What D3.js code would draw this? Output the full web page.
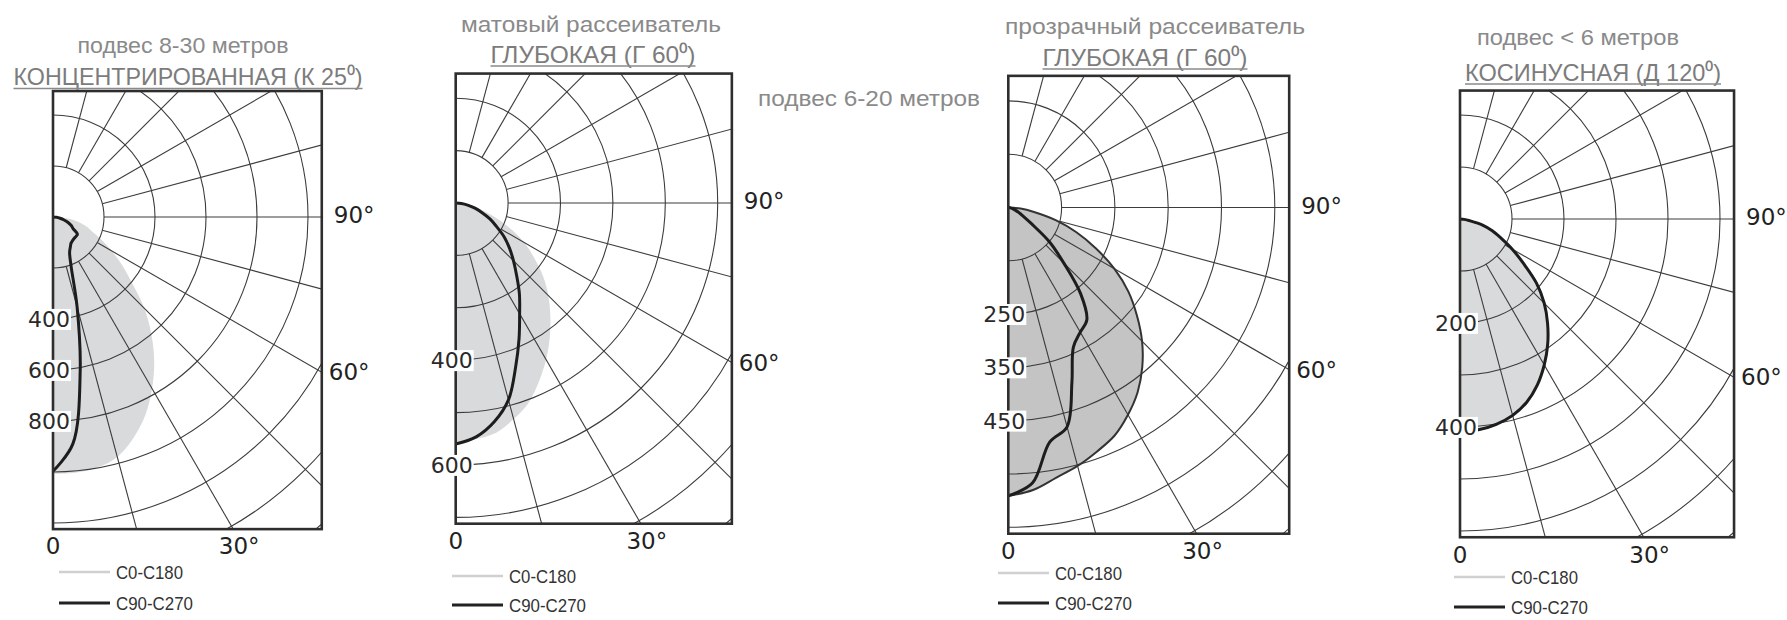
<!DOCTYPE html>
<html>
<head>
<meta charset="utf-8">
<script src="https://cdn.jsdelivr.net/npm/d3@7"></script>
<style>
  body { margin: 0; background: #fff; }
  svg { display: block; }
</style>
</head>
<body>
<script>
const width = 1787,
    height = 620;

// angle from nadir, degrees
const angles = [0, 5, 10, 15, 20, 25, 30, 35, 40, 45, 50, 55, 60, 65, 70, 75, 80, 85, 90];

const titlesTop = ['подвес 8-30 метров', 'матовый рассеиватель', 'прозрачный рассеиватель', 'подвес < 6 метров'];
const titlesMain = ['КОНЦЕНТРИРОВАННАЯ (К 25⁰)', 'ГЛУБОКАЯ (Г 60⁰)', 'ГЛУБОКАЯ (Г 60⁰)', 'КОСИНУСНАЯ (Д 120⁰)'];
const sideNote = 'подвес 6-20 метров';

// radial axis: value at the centre and value per ring
const rBase = [0, 100, 50, 0];
const rStep = [200, 100, 100, 100];
const rTicks = [[400, 600, 800], [400, 600], [250, 350, 450], [200, 400]];

// C0-C180 curves, cd
const c0 = [
  [1007, 1007, 998, 974, 922, 857, 777, 692, 600, 507, 406, 332, 265, 210, 162, 130, 95, 47, 0],
  [560, 552, 545, 527, 506, 476, 445, 413, 381, 350, 318, 283, 251, 215, 180, 153, 131, 113, 100],
  [591, 582, 565, 552, 537, 522, 499, 473, 441, 405, 365, 325, 280, 231, 186, 142, 99, 73, 50],
  [410, 409, 404, 394, 378, 356, 328, 298, 266, 233, 197, 156, 122, 92, 70, 48, 22, 9, 0]
];
// C90-C270 curves, cd
const c90 = [
  [997, 893, 614, 365, 209, 154, 136, 124, 120, 118, 118, 117, 91, 79, 63, 45, 28, 14, 0],
  [560, 548, 524, 489, 434, 386, 344, 312, 281, 256, 234, 213, 190, 172, 153, 138, 123, 111, 100],
  [591, 569, 497, 476, 399, 339, 320, 307, 261, 197, 152, 103, 82, 71, 63, 58, 54, 52, 50],
  [408, 407, 401, 391, 375, 352, 324, 294, 262, 229, 192, 149, 116, 87, 66, 45, 19, 8, 0]
];

const legendNames = ['C0-C180', 'C90-C270'];
const sideTicks = ['90°', '60°'];
const bottomTicks = ['0', '30°'];

// page layout of the four diagrams
const layout = [
  {left: 53, cy: 217, u: 51, t1: [183, 53, 211], t2: [188, 85, 349], lx: 59, ly: [572, 603], fill: '#d9dadb', edge: 'none'},
  {left: 455.7, cy: 203, u: 52.4, t1: [591, 31.5, 260], t2: [593, 62.5, 205], lx: 452, ly: [576, 605], fill: '#d9dadb', edge: 'none'},
  {left: 1008.3, cy: 207.5, u: 53.3, t1: [1155, 33.5, 300], t2: [1145, 65.5, 205], lx: 998, ly: [573, 603], fill: '#c4c4c4', edge: '#333'},
  {left: 1460, cy: 219, u: 52, t1: [1578, 45, 202], t2: [1593, 80.5, 256], lx: 1454, ly: [577, 607], fill: '#d9dadb', edge: 'none'}
];

const DEG = Math.PI / 180;
const narrow = "'Liberation Sans Narrow', 'Arial Narrow', 'Liberation Sans', sans-serif";
const wide = "'DejaVu Sans', Verdana, sans-serif";

var svg = d3.select('body').append('svg')
    .attr('width', width)
    .attr('height', height);

var defs = svg.append('defs');

layout.forEach((p, i) => {
  const W = p.u * 5.27,
      top = -p.u * 2.47,
      bottom = p.u * 6.12;
  const r = d3.scaleLinear().domain([rBase[i], rBase[i] + rStep[i]]).range([0, p.u]);

  defs.append('clipPath').attr('id', 'frame-' + i)
    .append('rect').attr('x', 0).attr('y', top).attr('width', W).attr('height', bottom - top);

  var g = svg.append('g').attr('transform', `translate(${p.left},${p.cy})`);
  var inner = g.append('g').attr('clip-path', `url(#frame-${i})`);

  const curve = d3.lineRadial()
      .angle(d => Math.PI - d[0] * DEG)
      .radius(d => r(d[1]))
      .curve(d3.curveCatmullRom.alpha(0.5));
  const pts0 = angles.map((a, j) => [a, c0[i][j]]),
      pts90 = angles.map((a, j) => [a, c90[i][j]]);

  // C0-C180 fill sits under the grid
  inner.append('path')
    .attr('d', curve(pts0) + 'Z')
    .attr('fill', p.fill);

  // rings
  inner.selectAll('circle.ring')
    .data(d3.range(1, 11).map(k => rBase[i] + k * rStep[i]))
    .enter().append('circle')
    .attr('class', 'ring')
    .attr('r', v => r(v))
    .attr('fill', 'none')
    .attr('stroke', '#3c3c3c')
    .attr('stroke-width', 1.1);

  // spokes every 15 degrees, starting on the first ring
  const r1 = r(rBase[i] + rStep[i]), rFar = r(rBase[i] + 12 * rStep[i]);
  inner.selectAll('line.spoke')
    .data(d3.range(15, 180, 15))
    .enter().append('line')
    .attr('class', 'spoke')
    .attr('x1', a => r1 * Math.sin(a * DEG))
    .attr('y1', a => r1 * Math.cos(a * DEG))
    .attr('x2', a => rFar * Math.sin(a * DEG))
    .attr('y2', a => rFar * Math.cos(a * DEG))
    .attr('stroke', '#3c3c3c')
    .attr('stroke-width', 1.1);

  if (p.edge !== 'none') {
    inner.append('path')
      .attr('d', curve(pts0))
      .attr('fill', 'none')
      .attr('stroke', p.edge)
      .attr('stroke-width', 2);
  }

  inner.append('path')
    .attr('d', curve(pts90))
    .attr('fill', 'none')
    .attr('stroke', '#1d1d1d')
    .attr('stroke-width', 3)
    .attr('stroke-linejoin', 'round');

  g.append('rect')
    .attr('x', 0).attr('y', top)
    .attr('width', W).attr('height', bottom - top)
    .attr('fill', 'none')
    .attr('stroke', '#2e2e2e')
    .attr('stroke-width', 2.6);

  // radial tick labels with white boxes
  var tk = g.selectAll('g.rtick')
    .data(rTicks[i])
    .enter().append('g')
    .attr('class', 'rtick')
    .attr('transform', v => `translate(-4,${r(v)})`);
  tk.append('rect');
  tk.append('text')
    .attr('text-anchor', 'middle')
    .attr('dy', '0.36em')
    .attr('font-family', wide)
    .attr('font-size', 22)
    .attr('fill', '#2a2a2a')
    .text(v => v);
  tk.each(function() {
    const b = d3.select(this).select('text').node().getBBox();
    d3.select(this).select('rect')
      .attr('x', b.x - 1).attr('y', b.y + 2)
      .attr('width', b.width + 2).attr('height', b.height - 4)
      .attr('fill', '#fff');
  });

  // angle labels
  const tan60 = Math.tan(60 * DEG), tan30 = Math.tan(30 * DEG);
  g.append('text')
    .attr('x', W + 12).attr('y', -2).attr('dy', '0.36em')
    .attr('font-family', wide).attr('font-size', 23).attr('fill', '#222')
    .text(sideTicks[0]);
  g.append('text')
    .attr('x', W + 7).attr('y', W / tan60).attr('dy', '0.36em')
    .attr('font-family', wide).attr('font-size', 23).attr('fill', '#222')
    .text(sideTicks[1]);
  g.append('text')
    .attr('x', 0).attr('y', bottom + 17).attr('dy', '0.36em')
    .attr('text-anchor', 'middle')
    .attr('font-family', wide).attr('font-size', 23).attr('fill', '#222')
    .text(bottomTicks[0]);
  g.append('text')
    .attr('x', bottom * tan30 + 6).attr('y', bottom + 17).attr('dy', '0.36em')
    .attr('text-anchor', 'middle')
    .attr('font-family', wide).attr('font-size', 23).attr('fill', '#222')
    .text(bottomTicks[1]);

  // titles
  svg.append('text')
    .attr('x', p.t1[0]).attr('y', p.t1[1])
    .attr('text-anchor', 'middle')
    .attr('font-family', narrow).attr('font-size', 22).attr('fill', '#8a8a8a')
    .attr('textLength', p.t1[2]).attr('lengthAdjust', 'spacingAndGlyphs')
    .text(titlesTop[i]);

  svg.append('text')
    .attr('x', p.t2[0]).attr('y', p.t2[1])
    .attr('text-anchor', 'middle')
    .attr('font-family', narrow).attr('font-size', 24).attr('fill', '#7c7c7c')
    .attr('textLength', p.t2[2]).attr('lengthAdjust', 'spacingAndGlyphs')
    .text(titlesMain[i]);
  svg.append('line')
    .attr('x1', p.t2[0] - p.t2[2] / 2).attr('x2', p.t2[0] + p.t2[2] / 2)
    .attr('y1', p.t2[1] + 3.5).attr('y2', p.t2[1] + 3.5)
    .attr('stroke', '#8a8a8a').attr('stroke-width', 1.6);

  // legend
  const lg = svg.append('g');
  lg.selectAll('line')
    .data(legendNames)
    .enter().append('line')
    .attr('x1', p.lx).attr('x2', p.lx + 51)
    .attr('y1', (d, k) => p.ly[k]).attr('y2', (d, k) => p.ly[k])
    .attr('stroke', (d, k) => k ? '#222' : '#d0d0d0')
    .attr('stroke-width', (d, k) => k ? 3 : 2.4);
  lg.selectAll('text')
    .data(legendNames)
    .enter().append('text')
    .attr('x', p.lx + 57)
    .attr('y', (d, k) => p.ly[k]).attr('dy', '0.36em')
    .attr('font-family', narrow).attr('font-size', 19).attr('fill', '#333')
    .attr('textLength', (d, k) => k ? 77 : 67).attr('lengthAdjust', 'spacingAndGlyphs')
    .text(d => d);
});

svg.append('text')
  .attr('x', 869).attr('y', 106)
  .attr('text-anchor', 'middle')
  .attr('font-family', narrow).attr('font-size', 22).attr('fill', '#8a8a8a')
  .attr('textLength', 222).attr('lengthAdjust', 'spacingAndGlyphs')
  .text(sideNote);
</script>
</body>
</html>
